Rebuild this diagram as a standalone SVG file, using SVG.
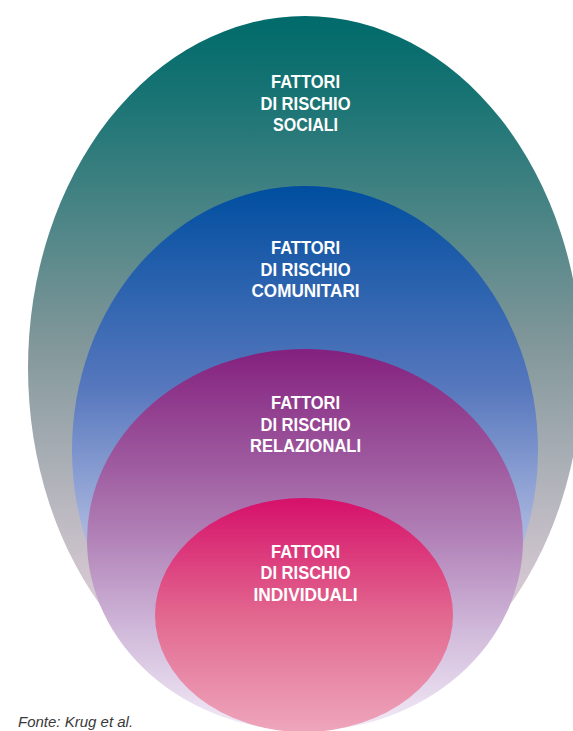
<svg xmlns="http://www.w3.org/2000/svg" width="573" height="731" viewBox="0 0 573 731">
  <defs>
    <linearGradient id="gOuter" gradientUnits="userSpaceOnUse" x1="0" y1="16" x2="0" y2="720">
      <stop offset="0" stop-color="#006a6a"/>
      <stop offset="0.12" stop-color="#1a7474"/>
      <stop offset="0.45" stop-color="#7d9598"/>
      <stop offset="0.8" stop-color="#d2c6d0"/>
      <stop offset="1" stop-color="#efe6f0"/>
    </linearGradient>
    <linearGradient id="gBlue" gradientUnits="userSpaceOnUse" x1="0" y1="186" x2="0" y2="714">
      <stop offset="0" stop-color="#004ea0"/>
      <stop offset="0.38" stop-color="#5677bd"/>
      <stop offset="0.65" stop-color="#a8b5de"/>
      <stop offset="1" stop-color="#e0e4f4"/>
    </linearGradient>
    <linearGradient id="gPurple" gradientUnits="userSpaceOnUse" x1="0" y1="349" x2="0" y2="731">
      <stop offset="0" stop-color="#84207e"/>
      <stop offset="0.3" stop-color="#9e5a9f"/>
      <stop offset="0.5" stop-color="#b283b8"/>
      <stop offset="0.75" stop-color="#d2bcdc"/>
      <stop offset="1" stop-color="#f3ecf7"/>
    </linearGradient>
    <linearGradient id="gPink" gradientUnits="userSpaceOnUse" x1="0" y1="498" x2="0" y2="732">
      <stop offset="0" stop-color="#d6106a"/>
      <stop offset="0.5" stop-color="#e2678f"/>
      <stop offset="1" stop-color="#eea6bc"/>
    </linearGradient>
  </defs>
  <style>
    .lbl { font-family: "Liberation Sans", Arial, sans-serif; font-weight: 700; font-size: 18px; fill: #ffffff; text-anchor: middle; }
    .src { font-family: "Liberation Sans", Arial, sans-serif; font-style: italic; font-size: 15px; fill: #3a3a3a; }
  </style>
  <rect width="573" height="731" fill="#ffffff"/>
  <g id="sociali">
    <ellipse cx="305" cy="368" rx="277" ry="352" fill="url(#gOuter)"/>
    <text class="lbl" x="305.5" y="88" textLength="69" lengthAdjust="spacingAndGlyphs">FATTORI</text>
    <text class="lbl" x="305.5" y="109.5" textLength="90" lengthAdjust="spacingAndGlyphs">DI RISCHIO</text>
    <text class="lbl" x="305.5" y="131" textLength="65" lengthAdjust="spacingAndGlyphs">SOCIALI</text>
  </g>
  <g id="comunitari">
    <ellipse cx="305" cy="450" rx="233" ry="264" fill="url(#gBlue)"/>
    <text class="lbl" x="305.5" y="254" textLength="69" lengthAdjust="spacingAndGlyphs">FATTORI</text>
    <text class="lbl" x="305.5" y="275.5" textLength="90" lengthAdjust="spacingAndGlyphs">DI RISCHIO</text>
    <text class="lbl" x="305.5" y="297" textLength="108" lengthAdjust="spacingAndGlyphs">COMUNITARI</text>
  </g>
  <g id="relazionali">
    <ellipse cx="305" cy="540" rx="218" ry="191" fill="url(#gPurple)"/>
    <text class="lbl" x="305.5" y="409" textLength="69" lengthAdjust="spacingAndGlyphs">FATTORI</text>
    <text class="lbl" x="305.5" y="430.5" textLength="90" lengthAdjust="spacingAndGlyphs">DI RISCHIO</text>
    <text class="lbl" x="305.5" y="452" textLength="111" lengthAdjust="spacingAndGlyphs">RELAZIONALI</text>
  </g>
  <g id="individuali">
    <ellipse cx="304" cy="615" rx="149" ry="117" fill="url(#gPink)"/>
    <text class="lbl" x="305.5" y="557.5" textLength="69" lengthAdjust="spacingAndGlyphs">FATTORI</text>
    <text class="lbl" x="305.5" y="579" textLength="90" lengthAdjust="spacingAndGlyphs">DI RISCHIO</text>
    <text class="lbl" x="305.5" y="600.5" textLength="104" lengthAdjust="spacingAndGlyphs">INDIVIDUALI</text>
  </g>
  <g id="fonte">
    <text class="src" x="18" y="726.5">Fonte: Krug et al.</text>
  </g>
</svg>
